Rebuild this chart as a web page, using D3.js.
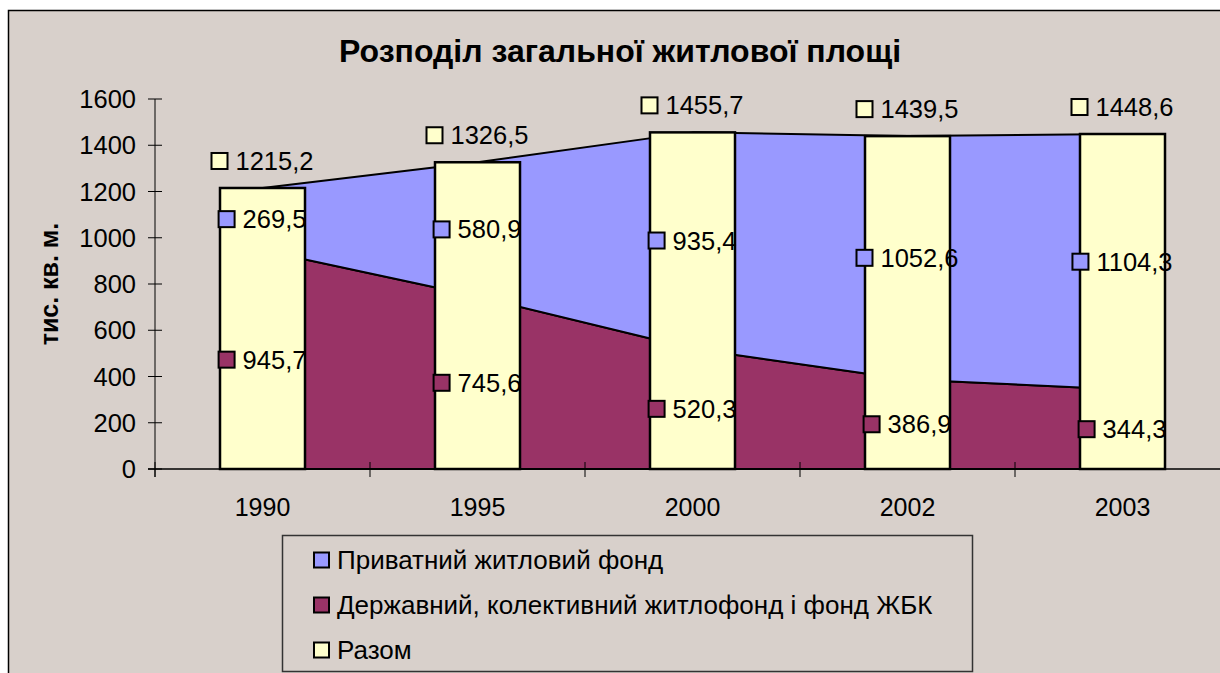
<!DOCTYPE html>
<html>
<head>
<meta charset="utf-8">
<script src="https://cdnjs.cloudflare.com/ajax/libs/d3/7.8.5/d3.min.js"></script>
<style>
    body { margin: 0; background: #fff; }
    svg text { font-family: "Liberation Sans", Arial, sans-serif; fill: #000; }
</style>
</head>
<body>
<svg id="chart" width="1220" height="673"></svg>
<script>
    // data
    const years = ["1990", "1995", "2000", "2002", "2003"]
    const privateFund = [269.5, 580.9, 935.4, 1052.6, 1104.3]
    const stateFund = [945.7, 745.6, 520.3, 386.9, 344.3]
    const totalFund = [1215.2, 1326.5, 1455.7, 1439.5, 1448.6]
    const yTicks = [0, 200, 400, 600, 800, 1000, 1200, 1400, 1600]
    const seriesNames = ["Приватний житловий фонд", "Державний, колективний житлофонд і фонд ЖБК", "Разом"]

    const colors = { priv: "#9999ff", state: "#993366", total: "#ffffcc", bg: "#d8d0cb" }

    const svg = d3.select("#chart")

    svg.append("rect")
        .attr("x", 8.5).attr("y", 10.5)
        .attr("width", 1230).attr("height", 700)
        .attr("fill", colors.bg)
        .attr("stroke", "#000").attr("stroke-width", 1.5)

    svg.append("text")
        .attr("x", 620).attr("y", 62)
        .attr("text-anchor", "middle")
        .attr("font-size", 32).attr("font-weight", "bold")
        .text("Розподіл загальної житлової площі")

    const x = d3.scaleBand().domain(years).range([155, 1230]).padding(0)
    const y = d3.scaleLinear().domain([0, 1600]).range([469, 99])
    const cx = d => x(d) + x.bandwidth() / 2
    const barW = 85

    const rows = years.map((yr, i) => ({ yr, state: stateFund[i], priv: privateFund[i], total: totalFund[i] }))
    const stacked = d3.stack().keys(["state", "priv"])(rows)

    const area = d3.area()
        .x(d => cx(d.data.yr))
        .y0(d => y(d[0]))
        .y1(d => y(d[1]))

    const plot = svg.append("g")

    plot.selectAll("path.layer")
        .data(stacked)
        .join("path")
        .attr("class", "layer")
        .attr("d", area)
        .attr("fill", d => d.key === "state" ? colors.state : colors.priv)
        .attr("stroke", "#000")
        .attr("stroke-width", 2)
        .attr("stroke-linejoin", "round")

    plot.selectAll("rect.bar")
        .data(rows)
        .join("rect")
        .attr("class", "bar")
        .attr("x", d => cx(d.yr) - barW / 2)
        .attr("width", barW)
        .attr("y", d => y(d.total))
        .attr("height", d => y(0) - y(d.total))
        .attr("fill", colors.total)
        .attr("stroke", "#000")
        .attr("stroke-width", 2.5)

    // axes
    const yAxis = svg.append("g")
    yAxis.append("line")
        .attr("x1", 155).attr("x2", 155)
        .attr("y1", y(1600)).attr("y2", y(0) + 8)
        .attr("stroke", "#000").attr("stroke-width", 1)
    yTicks.forEach(t => {
        yAxis.append("line")
            .attr("x1", 148).attr("x2", 162)
            .attr("y1", y(t)).attr("y2", y(t))
            .attr("stroke", "#000")
        yAxis.append("text")
            .attr("x", 136).attr("y", y(t) + 9)
            .attr("text-anchor", "end")
            .attr("font-size", 25.5)
            .text(t)
    })

    const xAxis = svg.append("g")
    xAxis.append("line")
        .attr("x1", 148).attr("x2", 1230)
        .attr("y1", y(0)).attr("y2", y(0))
        .attr("stroke", "#000").attr("stroke-width", 1.5)
    years.concat(["end"]).forEach((yr, i) => {
        const xx = 155 + i * x.bandwidth()
        xAxis.append("line")
            .attr("x1", xx).attr("x2", xx)
            .attr("y1", y(0) - 7).attr("y2", y(0) + 8)
            .attr("stroke", "#000")
    })
    years.forEach(yr => {
        xAxis.append("text")
            .attr("x", cx(yr)).attr("y", 516)
            .attr("text-anchor", "middle")
            .attr("font-size", 25)
            .text(yr)
    })

    svg.append("text")
        .attr("transform", "translate(58,284) rotate(-90)")
        .attr("text-anchor", "middle")
        .attr("font-size", 25).attr("font-weight", "bold")
        .text("тис. кв. м.")

    // data labels: marker + value, centred on category
    const fmt = v => v.toFixed(1).replace(".", ",")
    function label(xc, yc, value, fill) {
        const g = svg.append("g")
        const t = g.append("text")
            .attr("font-size", 25.5)
            .attr("y", yc + 9)
            .text(fmt(value))
        const w = t.node().getComputedTextLength()
        const full = 16 + 8 + w
        const left = xc - full / 2
        g.append("rect")
            .attr("x", left).attr("y", yc - 8)
            .attr("width", 16).attr("height", 16)
            .attr("fill", fill)
            .attr("stroke", "#000").attr("stroke-width", 2)
        t.attr("x", left + 24)
    }
    rows.forEach(d => {
        label(cx(d.yr), y(d.total) - 27, d.total, colors.total)
        label(cx(d.yr), y(d.state + d.priv / 2), d.priv, colors.priv)
        label(cx(d.yr), y(d.state / 2), d.state, colors.state)
    })

    // legend
    const legend = svg.append("g")
    legend.append("rect")
        .attr("x", 282.5).attr("y", 535.5)
        .attr("width", 690).attr("height", 136)
        .attr("fill", colors.bg)
        .attr("stroke", "#333").attr("stroke-width", 1.5)
    const legColors = [colors.priv, colors.state, colors.total]
    seriesNames.forEach((name, i) => {
        const ly = 560 + i * 45
        legend.append("rect")
            .attr("x", 314).attr("y", ly - 7.5)
            .attr("width", 15).attr("height", 15)
            .attr("fill", legColors[i])
            .attr("stroke", "#000").attr("stroke-width", 2)
        legend.append("text")
            .attr("x", 337).attr("y", ly + 9)
            .attr("font-size", 26)
            .text(name)
    })
</script>
</body>
</html>
